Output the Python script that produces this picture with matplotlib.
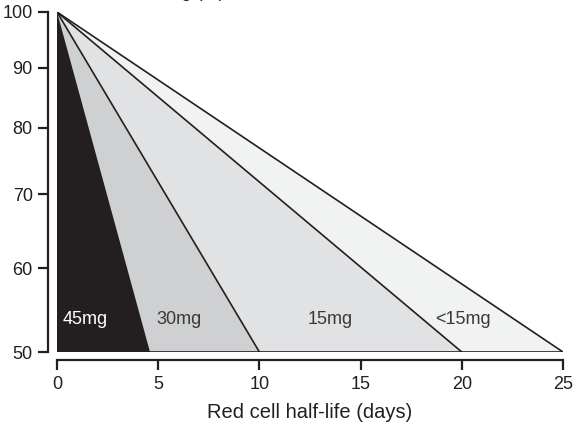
import numpy as np
import matplotlib
matplotlib.use("Agg")
import matplotlib.pyplot as plt

plt.rcParams['font.family'] = ['Liberation Sans', 'DejaVu Sans']

# x-intercepts (days) of each band's lower edge, all starting at 100%
doses = ['45mg', '30mg', '15mg', '<15mg']
end_days = [4.6, 10, 20, 25]
fill_colors = ['#231f20', '#cfd0d2', '#e1e2e3', '#f1f2f2']
label_x = [0.3, 4.9, 12.4, 18.7]
label_y = 53.7
label_colors = ['white', '#3a3a3a', '#3a3a3a', '#3a3a3a']

x_ticks = [0, 5, 10, 15, 20, 25]
y_ticks = [50, 60, 70, 80, 90, 100]


def fwd(y):
    return np.power(np.clip(y, 1e-9, None), 0.25)


def inv(y):
    return np.power(y, 4)


fig = plt.figure(figsize=(5.74, 4.23), dpi=100)
ax = fig.add_axes([57 / 574, 1 - 352 / 423, 506 / 574, 340 / 423])
ax.set_yscale('function', functions=(fwd, inv))

# draw widest band first so narrower ones sit on top
for i in reversed(range(len(doses))):
    xs = [0, 0, end_days[i]]
    ys = [100, 50, 50]
    ax.fill(xs, ys, color=fill_colors[i], lw=0, zorder=1 + (3 - i))
    if i > 0:
        ax.plot([0, end_days[i]], [100, 50], color='#231f20', lw=1.2, zorder=6)

ax.plot([0, 25], [50, 50], color='#231f20', lw=1.2, zorder=6)

for i, d in enumerate(doses):
    ax.text(label_x[i], label_y, d, color=label_colors[i], fontsize=13,
            ha='left', va='center', zorder=7)

ax.set_xlim(0, 25)
ax.set_ylim(50, 100)
ax.set_xticks(x_ticks)
ax.set_yticks(y_ticks)
ax.set_yticklabels([str(v) for v in y_ticks])
ax.minorticks_off()

for side in ['top', 'right']:
    ax.spines[side].set_visible(False)
ax.spines['left'].set_position(('outward', 6.5))
ax.spines['bottom'].set_position(('outward', 5.5))
ax.spines['left'].set_bounds(50, 100)
ax.spines['bottom'].set_bounds(0, 25)
for side in ['left', 'bottom']:
    ax.spines[side].set_linewidth(1.6)
    ax.spines[side].set_color('#231f20')

ax.tick_params(axis='both', which='major', direction='out', length=7,
               width=1.6, color='#231f20', labelsize=13, labelcolor='#231f20')
ax.tick_params(axis='y', pad=4)
ax.tick_params(axis='x', pad=5)

ax.set_xlabel('Red cell half-life (days)', fontsize=14.5, color='#231f20', labelpad=7)

# header text, mostly cut off by the top edge in the original
fig.text(225 / 574, 1.0 + 3 / 423, 'Cells surviving (%)', fontsize=13,
         ha='right', va='baseline', color='#231f20')

fig.savefig('out.png', dpi=100)
